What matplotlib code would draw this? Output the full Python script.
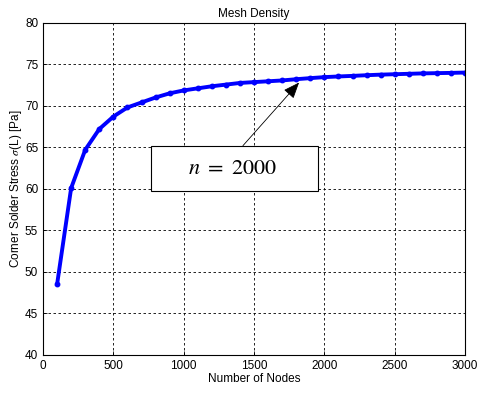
import numpy as np
import matplotlib
matplotlib.use("Agg")
import matplotlib.pyplot as plt
from matplotlib.patches import Rectangle

# mesh density study: stress at the corner solder vs node count
nodes = np.arange(100, 3001, 100)
stress = [48.5, 60.1, 64.7, 67.2, 68.7, 69.8, 70.4, 71.0, 71.5, 71.85,
          72.1, 72.35, 72.55, 72.75, 72.85, 72.95, 73.05, 73.2, 73.33, 73.45,
          73.53, 73.6, 73.68, 73.75, 73.8, 73.85, 73.9, 73.93, 73.96, 74.0]

x_ticks = np.arange(0, 3001, 500)
y_ticks = np.arange(40, 81, 5)

plt.rcParams['font.family'] = ['Liberation Sans', 'DejaVu Sans']
plt.rcParams['mathtext.fontset'] = 'stix'

fig = plt.figure(figsize=(4.8, 3.93), dpi=100)
ax = fig.add_axes([0.0896, 0.0967, 0.8794, 0.8455])

ax.plot(nodes, stress, color=(0, 0, 1), linewidth=2.8, marker='o', markersize=3.2)

ax.set_xlim(0, 3000)
ax.set_ylim(40, 80)
ax.set_xticks(x_ticks)
ax.set_yticks(y_ticks)
ax.tick_params(direction='in', labelsize=8.5, length=3, width=0.6)
ax.grid(True, color='black', linestyle=(0, (3, 3)), linewidth=0.6)
for s in ax.spines.values():
    s.set_linewidth(0.8)

ax.set_title("Mesh Density", fontsize=8.5, pad=4)
ax.set_xlabel("Number of Nodes", fontsize=8.5, labelpad=1)
ax.set_ylabel("Corner Solder Stress $\\sigma$(L) [Pa]", fontsize=8.5, labelpad=1)

# annotation box
ax.add_patch(Rectangle((768, 59.7), 1187, 5.5, facecolor='white',
                       edgecolor='black', linewidth=0.8, zorder=5))
ax.text(1350, 62.45, "$n\\ =\\ 2000$", fontsize=16, ha='center', va='center',
        zorder=6)
ax.annotate("", xy=(1820, 72.8), xytext=(1421, 65.2),
            arrowprops=dict(arrowstyle='-|>,head_length=1.0,head_width=0.4',
                            color='black', lw=0.6, shrinkA=0, shrinkB=0),
            zorder=6)

fig.savefig("out.png", dpi=100)
